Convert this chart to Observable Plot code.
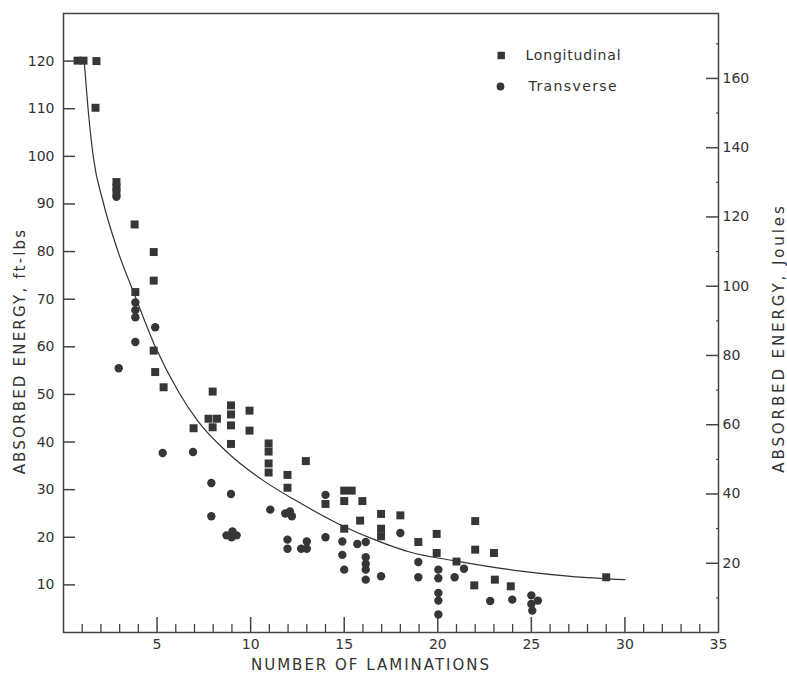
<!DOCTYPE html>
<html>
<head>
<meta charset="utf-8">
<script src="https://cdn.jsdelivr.net/npm/d3@7"></script>
<script src="https://cdn.jsdelivr.net/npm/@observablehq/plot@0.6"></script>
<style>
  html, body { margin: 0; padding: 0; background: #ffffff; }
  #chart { width: 787px; height: 673px; }
</style>
</head>
<body>
<div id="chart"></div>
<script>
// ---- Data ----
// Longitudinal specimens (squares)
const longX = [0.75, 1.07, 1.76, 1.71,
  2.83, 2.83, 2.83,
  3.8, 4.82, 4.82, 3.84,
  4.82, 4.9, 5.35,
  6.95, 7.97, 7.75, 8.2, 7.97,
  8.95, 8.95, 8.95, 8.95,
  9.94, 9.94,
  10.96, 10.96, 10.96, 10.96,
  11.97, 11.97, 12.95,
  14.0,
  15.0, 15.4, 15.0, 15.97, 15.85, 15.0,
  16.97, 16.97, 16.97,
  18.0, 18.96,
  19.94, 19.94,
  21.0, 22.0, 22.0, 23.0, 23.05, 21.95, 23.9,
  29.0];
const longY = [120.1, 120.1, 120, 110.2,
  94.6, 93.5, 92.5,
  85.7, 79.9, 73.9, 71.5,
  59.2, 54.7, 51.5,
  42.9, 50.6, 44.9, 44.9, 43.1,
  47.7, 45.8, 43.5, 39.6,
  46.6, 42.4,
  39.7, 38.0, 35.5, 33.6,
  33.1, 30.4, 36.0,
  27.0,
  29.8, 29.8, 27.6, 27.6, 23.5, 21.8,
  24.9, 21.8, 20.2,
  24.6, 19.0,
  20.7, 16.7,
  14.9, 23.4, 17.4, 16.7, 11.1, 9.9, 9.7,
  11.6];

// Transverse specimens (circles)
const transX = [2.83,
  3.84, 3.84, 3.84, 4.9, 3.84,
  2.95, 5.3, 6.92,
  7.9, 7.9, 8.95,
  8.71, 9.03, 9.25, 8.98,
  11.05, 11.85, 12.1, 12.2,
  11.97, 11.97, 12.7, 13.0, 13.0,
  14.0, 14.0,
  14.9, 14.9, 15.0,
  15.7, 16.15, 16.15, 16.15, 16.15, 16.15,
  16.97, 18.0, 18.96, 18.96,
  20.03, 20.03, 20.03, 20.03, 20.03,
  20.9, 21.4,
  22.8, 23.98,
  25.0, 25.35, 25.0, 25.05];
const transY = [91.5,
  69.3, 67.7, 66.2, 64.1, 61.0,
  55.5, 37.7, 37.9,
  31.4, 24.4, 29.1,
  20.4, 21.2, 20.4, 20.0,
  25.8, 25.0, 25.4, 24.4,
  19.5, 17.6, 17.6, 17.6, 19.1,
  28.9, 20.0,
  19.1, 16.3, 13.2,
  18.6, 19.0, 15.8, 14.4, 13.2, 11.1,
  11.8, 20.9, 14.8, 11.6,
  13.2, 11.4, 8.3, 6.7, 3.8,
  11.6, 13.4,
  6.6, 6.9,
  7.8, 6.7, 6.0, 4.6];

// Fitted curve, points
const curveX = [1.10, 1.31, 1.58, 2.14, 2.89, 3.79, 4.92, 6.20, 7.16, 8.82, 10.64, 12.51, 14.70, 16.68, 18.5, 21.0, 24.43, 27.1, 30.0];
const curveY = [120.2, 110.1, 100.2, 90.1, 80.3, 71.0, 59.9, 50.2, 44.5, 37.6, 32.0, 27.5, 22.8, 19.4, 16.9, 15.0, 12.9, 11.8, 11.1];

// Axis ticks
const xTickLabels = [5, 10, 15, 20, 25, 30, 35];
const xMajorTicks = [5, 10, 15, 20, 25, 30];
const xMinorTicks = d3.range(1, 35).filter(d => d % 5 !== 0);
const yTicks = [10, 20, 30, 40, 50, 60, 70, 80, 90, 100, 110, 120];
const joulesMajor = [20, 40, 60, 80, 100, 120, 140, 160];
const joulesMinor = [10, 30, 50, 70, 90, 110, 130, 150, 170];
const joulesPerFtLb = 1.375; // right-axis scale as printed

const legendLabels = ["Longitudinal", "Transverse"];
const xTitle = "NUMBER OF LAMINATIONS";
const yTitleLeft = "ABSORBED ENERGY, ft-lbs";
const yTitleRight = "ABSORBED ENERGY, Joules";

// ---- Build tables ----
const longitudinal = longX.map((x, i) => ({x, y: longY[i]}));
const transverse = transX.map((x, i) => ({x, y: transY[i]}));
const curve = curveX.map((x, i) => ({x, y: curveY[i]}));

const ink = "#333333";
const axisInk = "#444444";
const markInk = "#363636";

const chart = Plot.plot({
  width: 787,
  height: 673,
  marginLeft: 63,
  marginRight: 69,
  marginTop: 13,
  marginBottom: 41,
  style: {fontFamily: "DejaVu Sans", fontSize: "14px", color: ink, background: "#ffffff"},
  x: {domain: [0, 35]},
  y: {domain: [0, 130]},
  marks: [
    Plot.frame({stroke: axisInk, strokeWidth: 1.5}),
    // left axis labels and inward ticks
    Plot.axisY({anchor: "left", ticks: yTicks, tickSize: 0, tickPadding: 9, label: null, fill: ink, fontSize: 14}),
    Plot.axisY({anchor: "left", ticks: yTicks, tickSize: 12, dx: 12, tickFormat: () => "", label: null, stroke: axisInk, strokeWidth: 1.5}),
    // bottom axis labels and inward ticks
    Plot.axisX({anchor: "bottom", ticks: xTickLabels, tickSize: 0, tickPadding: 7, label: null, fill: ink, fontSize: 14}),
    Plot.axisX({anchor: "bottom", ticks: xMajorTicks, tickSize: 15, dy: -15, tickFormat: () => "", label: null, stroke: axisInk, strokeWidth: 1.5}),
    Plot.axisX({anchor: "bottom", ticks: xMinorTicks, tickSize: 8, dy: -8, tickFormat: () => "", label: null, stroke: axisInk, strokeWidth: 1.3}),
    // right axis (Joules)
    Plot.axisY({anchor: "right", ticks: joulesMajor.map(j => j / joulesPerFtLb), tickFormat: d => Math.round(d * joulesPerFtLb), tickSize: 0, tickPadding: 4, label: null, fill: ink, fontSize: 14}),
    Plot.axisY({anchor: "right", ticks: joulesMajor.map(j => j / joulesPerFtLb), tickSize: 13, dx: -13, tickFormat: () => "", label: null, stroke: axisInk, strokeWidth: 1.5}),
    Plot.axisY({anchor: "right", ticks: joulesMinor.map(j => j / joulesPerFtLb), tickSize: 3, dx: -3, tickFormat: () => "", label: null, stroke: axisInk, strokeWidth: 1.2}),
    // fitted curve
    Plot.line(curve, {x: "x", y: "y", curve: "monotone-x", stroke: ink, strokeWidth: 1.2}),
    // data
    Plot.dot(longitudinal, {x: "x", y: "y", symbol: "square", r: 4.5, fill: markInk, stroke: "none"}),
    Plot.dot(transverse, {x: "x", y: "y", symbol: "circle", r: 4.2, fill: markInk, stroke: "none"}),
    // legend
    Plot.dot([legendLabels[0]], {frameAnchor: "top-left", dx: 437.7, dy: 42, symbol: "square", r: 4.2, fill: markInk}),
    Plot.dot([legendLabels[1]], {frameAnchor: "top-left", dx: 437, dy: 73, symbol: "circle", r: 3.9, fill: markInk}),
    Plot.text([legendLabels[0]], {text: d => d, frameAnchor: "top-left", dx: 462, dy: 42, textAnchor: "start", lineAnchor: "middle", fontSize: 14, fill: ink}),
    Plot.text([legendLabels[1]], {text: d => d, frameAnchor: "top-left", dx: 465, dy: 73, textAnchor: "start", lineAnchor: "middle", fontSize: 14, fill: ink}),
    // axis titles
    Plot.text([xTitle], {text: d => d, frameAnchor: "bottom", dx: -20, dy: 33, lineAnchor: "middle", textAnchor: "middle", fontSize: 15, fill: ink}),
    Plot.text([yTitleLeft], {text: d => d, frameAnchor: "left", dx: -43, dy: 28, rotate: -90, lineAnchor: "middle", textAnchor: "middle", fontSize: 15, fill: ink}),
    Plot.text([yTitleRight], {text: d => d, frameAnchor: "right", dx: 61, dy: 15, rotate: -90, lineAnchor: "middle", textAnchor: "middle", fontSize: 15, fill: ink})
  ]
});

document.getElementById("chart").appendChild(chart);

// letter spacing for the printed, widely tracked titles
const spacing = {};
spacing[xTitle] = 2;
spacing[yTitleLeft] = 2.2;
spacing[yTitleRight] = 2.9;
spacing[legendLabels[0]] = 0.8;
spacing[legendLabels[1]] = 1.4;
d3.select(chart).selectAll("text").each(function () {
  const s = spacing[this.textContent];
  if (s != null) this.setAttribute("letter-spacing", s);
});
</script>
</body>
</html>
